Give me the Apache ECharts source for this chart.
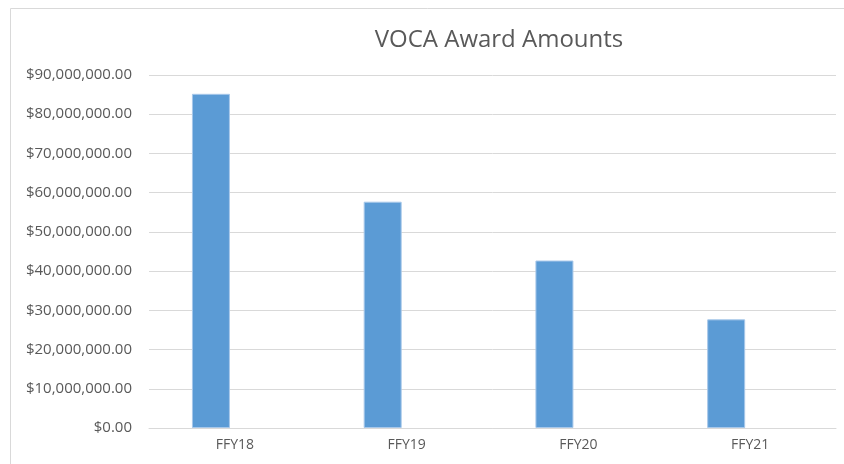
<!DOCTYPE html>
<html>
<head>
<meta charset="utf-8">
<script src="https://cdn.jsdelivr.net/npm/echarts@6/dist/echarts.min.js"></script>
<style>
  html, body { margin: 0; padding: 0; background: #fff; }
  #chart { width: 844px; height: 464px; }
</style>
</head>
<body>
<div id="chart"></div>
<script>
const categories = ['FFY18', 'FFY19', 'FFY20', 'FFY21'];
const awardAmounts = [85200000, 57700000, 42700000, 27700000];
const emptySeries = [null, null, null, null];

const FONT = '"Open Sans", "Noto Sans", sans-serif';
const TEXT_GRAY = '#595959';
const LINE_GRAY = '#d9d9d9';

let chart = echarts.init(document.getElementById('chart'));

function money(v) {
    return '$' + v.toLocaleString('en-US', {minimumFractionDigits: 2, maximumFractionDigits: 2});
}

chart.setOption({
    animation: false,
    title: {
        text: 'VOCA Award Amounts',
        left: 494,
        top: 23,
        textAlign: 'center',
        textStyle: {
            fontFamily: FONT,
            fontSize: 24,
            fontWeight: 'normal',
            color: TEXT_GRAY
        }
    },
    graphic: [{
        type: 'rect',
        shape: {x: 10.5, y: 8.5, width: 860, height: 480},
        style: {fill: 'none', stroke: LINE_GRAY, lineWidth: 1},
        silent: true
    }],
    grid: {
        left: 149,
        right: 8,
        top: 75,
        bottom: 36,
        containLabel: false
    },
    xAxis: {
        type: 'category',
        data: categories,
        axisLine: {lineStyle: {color: LINE_GRAY}},
        axisTick: {show: false},
        axisLabel: {
            fontFamily: FONT,
            fontSize: 14,
            color: TEXT_GRAY,
            margin: 10
        }
    },
    yAxis: {
        type: 'value',
        min: 0,
        max: 90000000,
        interval: 10000000,
        axisLine: {show: false},
        axisTick: {show: false},
        splitLine: {lineStyle: {color: LINE_GRAY, width: 1}},
        axisLabel: {
            fontFamily: FONT,
            fontSize: 15,
            color: TEXT_GRAY,
            margin: 17,
            formatter: money
        }
    },
    series: [{
        name: 'Award',
        type: 'bar',
        data: awardAmounts,
        barWidth: 38,
        barGap: '26%',
        itemStyle: {
            color: '#5b9bd5',
            borderColor: '#a8c8ea',
            borderWidth: 1
        }
    }, {
        name: 'Empty',
        type: 'bar',
        data: emptySeries,
        barWidth: 38
    }]
});
</script>
</body>
</html>
